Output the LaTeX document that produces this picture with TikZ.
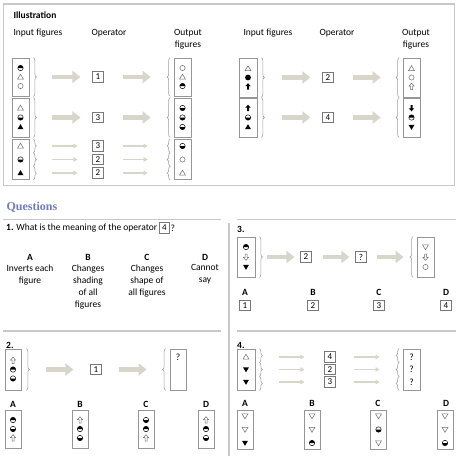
\documentclass[tikz,border=0pt]{standalone}
\usepackage{fontspec}
\setmainfont{Carlito}
\newfontfamily\headfont{Liberation Serif}
\usetikzlibrary{arrows.meta,positioning,calc,decorations.pathreplacing}

\definecolor{framegrey}{RGB}{200,200,200}
\definecolor{boxgrey}{RGB}{150,150,150}
\definecolor{opgrey}{RGB}{120,120,120}
\definecolor{figgrey}{RGB}{110,110,110}
\definecolor{bracegrey}{RGB}{160,160,160}
\definecolor{arrowbeige}{RGB}{216,214,202}
\definecolor{qblue}{RGB}{112,122,188}

\tikzset{
  frame/.style={draw=framegrey, line width=1.2pt},
  sepline/.style={draw=framegrey, line width=1.6pt},
  figbox/.style={draw=boxgrey, line width=0.7pt, minimum width=17pt, minimum height=39pt, inner sep=0pt},
  opbox/.style={draw=opgrey, line width=0.6pt, minimum width=10.5pt, minimum height=10.5pt, inner sep=0pt, font=\fontsize{9}{10}\selectfont},
  bigarrow/.style={draw=arrowbeige, line width=4.5pt, -{Triangle[length=8pt,width=12pt]}},
  thinarrow/.style={draw=arrowbeige, line width=1.3pt, -{Triangle[length=4pt,width=4.5pt]}},
  rbrace/.style={draw=bracegrey, line width=0.6pt, decorate, decoration={brace, amplitude=3pt}},
  lbrace/.style={draw=bracegrey, line width=0.6pt, decorate, decoration={brace, amplitude=3pt, mirror}},
  letter/.style={font=\fontsize{9.5}{12}\selectfont\bfseries},
  ans/.style={align=center, inner sep=0pt},
  figline/.style={draw=figgrey, line width=0.5pt},
  % little figures
  circ/.pic={\draw[figline] (0,0) circle[radius=2.6];},
  dot/.pic={\fill (0,0) circle[radius=2.9];},
  hcT/.pic={\fill (-2.7,0) arc[start angle=180,end angle=360,radius=2.7] -- cycle;
            \draw[line width=0.5pt] (0,0) circle[radius=2.7];},
  hcB/.pic={\fill (-2.7,0) arc[start angle=180,end angle=0,radius=2.7] -- cycle;
            \draw[line width=0.5pt] (0,0) circle[radius=2.7];},
  triU/.pic={\draw[figline] (-3,2.2) -- (3,2.2) -- (0,-2.8) -- cycle;},
  triUf/.pic={\fill (-3,2.2) -- (3,2.2) -- (0,-2.8) -- cycle;},
  triD/.pic={\draw[figline] (-3,-2.2) -- (3,-2.2) -- (0,2.8) -- cycle;},
  triDf/.pic={\fill (-3,-2.2) -- (3,-2.2) -- (0,2.8) -- cycle;},
  arrUf/.pic={\fill (0,-3.3) -- (2.6,-0.4) -- (1,-0.4) -- (1,3) -- (-1,3) -- (-1,-0.4) -- (-2.6,-0.4) -- cycle;},
  arrUo/.pic={\draw[figline] (0,-3.3) -- (2.6,-0.4) -- (1,-0.4) -- (1,3) -- (-1,3) -- (-1,-0.4) -- (-2.6,-0.4) -- cycle;},
  arrDf/.pic={\fill (0,3.3) -- (2.6,0.4) -- (1,0.4) -- (1,-3) -- (-1,-3) -- (-1,0.4) -- (-2.6,0.4) -- cycle;},
  arrDo/.pic={\draw[figline] (0,3.3) -- (2.6,0.4) -- (1,0.4) -- (1,-3) -- (-1,-3) -- (-1,0.4) -- (-2.6,0.4) -- cycle;},
}

% three figures in a column box: node, spacing, top, middle, bottom
\newcommand{\figcol}[5]{%
  \pic at ($(#1)+(0,-#2)$) {#3};
  \pic at (#1) {#4};
  \pic at ($(#1)+(0,#2)$) {#5};}

\begin{document}
\begin{tikzpicture}[x=1pt, y=-1pt, font=\fontsize{9.5}{12}\selectfont]
    \useasboundingbox (0,0) rectangle (460,458);

    % Illustration
    \draw[frame] (3.5,4) rectangle (454.5,185.5);
    \node[letter, anchor=west] (illus) at (10,15) {Illustration};
    \node (lin) at (38,33) {Input figures};
    \node (lop) at (109,33) {Operator};
    \node[align=center] (lout) at (188,39) {Output\\figures};
    \node (rin) at (268,33) {Input figures};
    \node (rop) at (337,33) {Operator};
    \node[align=center] (rout) at (416,39) {Output\\figures};

    % left: inputs
    \node[figbox, minimum height=38pt] (in1) at (20.5,77) {};
    \node[figbox] (in2) at (20.5,117.5) {};
    \node[figbox, minimum height=40pt] (in3) at (20.5,159.5) {};
    \figcol{in1}{9}{hcT}{triU}{circ}
    \figcol{in2}{9.5}{triU}{hcB}{triUf}
    \figcol{in3}{13.5}{triU}{hcB}{triUf}
    \draw[rbrace] ([xshift=4pt]in1.north east) -- ([xshift=4pt]in1.south east);
    \draw[rbrace] ([xshift=4pt]in2.north east) -- ([xshift=4pt]in2.south east);
    \coordinate (ia) at ($(in3.north east)+(4,0)$);
    \coordinate (id) at ($(in3.south east)+(4,0)$);
    \coordinate (ib) at ($(ia)!1/3!(id)$);
    \coordinate (ic) at ($(ia)!2/3!(id)$);
    \draw[rbrace] (ia) -- (ib);
    \draw[rbrace] (ib) -- (ic);
    \draw[rbrace] (ic) -- (id);

    % left: operators
    \node[opbox] (op1) at (98,77) {1};
    \node[opbox] (op2) at (98,117.5) {3};
    \node[opbox] (op3) at (98,146) {3};
    \node[opbox] (op4) at (98,159.5) {2};
    \node[opbox] (op5) at (98,173) {2};

    % left: outputs
    \node[figbox, minimum height=38pt] (out1) at (182.5,77) {};
    \node[figbox] (out2) at (182.5,117.5) {};
    \node[figbox, minimum height=40pt] (out3) at (182.5,159.5) {};
    \figcol{out1}{9}{circ}{triU}{hcT}
    \figcol{out2}{9.5}{hcB}{hcB}{hcB}
    \figcol{out3}{13.5}{hcB}{circ}{triU}
    \draw[lbrace] ([xshift=-3.5pt]out1.north west) -- ([xshift=-3.5pt]out1.south west);
    \draw[lbrace] ([xshift=-3.5pt]out2.north west) -- ([xshift=-3.5pt]out2.south west);
    \coordinate (oa) at ($(out3.north west)+(-3.5,0)$);
    \coordinate (od) at ($(out3.south west)+(-3.5,0)$);
    \coordinate (ob) at ($(oa)!1/3!(od)$);
    \coordinate (oc) at ($(oa)!2/3!(od)$);
    \draw[lbrace] (oa) -- (ob);
    \draw[lbrace] (ob) -- (oc);
    \draw[lbrace] (oc) -- (od);

    % left: arrows
    \draw[bigarrow, shorten <=23pt, shorten >=12pt] (in1) -- (op1);
    \draw[bigarrow, shorten <=23pt, shorten >=12pt] (in2) -- (op2);
    \draw[bigarrow, shorten <=19pt, shorten >=23pt] (op1) -- (out1);
    \draw[bigarrow, shorten <=19pt, shorten >=23pt] (op2) -- (out2);
    \foreach \o in {op3,op4,op5} {
        \draw[thinarrow, shorten <=23pt, shorten >=15pt] (in3.east |- \o) -- (\o);
        \draw[thinarrow, shorten <=19pt, shorten >=26pt] (\o) -- (out3.west |- \o);
    }

    % right: inputs
    \node[figbox, minimum width=18pt] (rin1) at (248,77.5) {};
    \node[figbox, minimum width=18pt] (rin2) at (248,117.5) {};
    \figcol{rin1}{9}{triU}{dot}{arrUf}
    \figcol{rin2}{9.5}{arrUf}{hcB}{triUf}
    \draw[rbrace] ([xshift=4pt]rin1.north east) -- ([xshift=4pt]rin1.south east);
    \draw[rbrace] ([xshift=4pt]rin2.north east) -- ([xshift=4pt]rin2.south east);

    % right: operators and outputs
    \node[opbox] (rop1) at (328,77.5) {2};
    \node[opbox] (rop2) at (328,117.5) {4};
    \node[figbox] (rout1) at (411.5,77.5) {};
    \node[figbox] (rout2) at (411.5,117.5) {};
    \figcol{rout1}{9}{triU}{circ}{arrUo}
    \figcol{rout2}{9.5}{arrDf}{hcT}{triDf}
    \draw[lbrace] ([xshift=-3.5pt]rout1.north west) -- ([xshift=-3.5pt]rout1.south west);
    \draw[lbrace] ([xshift=-3.5pt]rout2.north west) -- ([xshift=-3.5pt]rout2.south west);
    \draw[bigarrow, shorten <=25pt, shorten >=12pt] (rin1) -- (rop1);
    \draw[bigarrow, shorten <=25pt, shorten >=12pt] (rin2) -- (rop2);
    \draw[bigarrow, shorten <=19pt, shorten >=22pt] (rop1) -- (rout1);
    \draw[bigarrow, shorten <=19pt, shorten >=22pt] (rop2) -- (rout2);

    % Questions
    \node[anchor=west, font=\headfont\bfseries\fontsize{12}{14}\selectfont, text=qblue] (qhead) at (3,207) {Questions};
    \draw[sepline] (3,219.5) -- (221,219.5);
    \draw[sepline] (237,219.5) -- (456,219.5);
    \draw[sepline] (229,223) -- (229,456);
    \draw[sepline] (3,331) -- (221,331);
    \draw[sepline] (237,331) -- (456,331);

    % Question 1
    \node[anchor=west, inner sep=0pt] (q1) at (6,228) {\textbf{1.} What is the meaning of the operator};
    \node[opbox, right=1.5pt of q1] (q1op) {4};
    \node[right=0.5pt of q1op, inner sep=0pt] (q1q) {?};
    \node[letter] (q1A) at (30,257) {A};
    \node[letter] (q1B) at (88,257) {B};
    \node[letter] (q1C) at (147,257) {C};
    \node[letter] (q1D) at (205,257) {D};
    \node[ans, below=1pt of q1A] {Inverts each\\figure};
    \node[ans, below=1pt of q1B] {Changes\\shading\\of all\\figures};
    \node[ans, below=1pt of q1C] {Changes\\shape of\\all figures};
    \node[ans, below=1pt of q1D] {Cannot\\say};

    % Question 3
    \node[letter, anchor=west, inner sep=0pt] (q3) at (237,229) {3.};
    \node[figbox, minimum width=18pt, minimum height=40pt] (q3in) at (246,257) {};
    \figcol{q3in}{10}{hcT}{arrDo}{triDf}
    \draw[rbrace] ([xshift=4pt]q3in.north east) -- ([xshift=4pt]q3in.south east);
    \node[opbox] (q3op1) at (306,257) {2};
    \node[opbox] (q3op2) at (361,257) {?};
    \node[figbox, minimum height=40pt] (q3out) at (425.5,257) {};
    \figcol{q3out}{10}{triD}{arrDo}{circ}
    \draw[lbrace] ([xshift=-3.5pt]q3out.north west) -- ([xshift=-3.5pt]q3out.south west);
    \draw[bigarrow, shorten <=12pt, shorten >=6pt] (q3in) -- (q3op1);
    \draw[bigarrow, shorten <=11pt, shorten >=6pt] (q3op1) -- (q3op2);
    \draw[bigarrow, shorten <=10pt, shorten >=13pt] (q3op2) -- (q3out);
    \node[letter] (q3A) at (245,292) {A};
    \node[letter] (q3B) at (313,292) {B};
    \node[letter] (q3C) at (379,292) {C};
    \node[letter] (q3D) at (446,292) {D};
    \node[opbox, below=1pt of q3A] {1};
    \node[opbox, below=1pt of q3B] {2};
    \node[opbox, below=1pt of q3C] {3};
    \node[opbox, below=1pt of q3D] {4};

    % Question 2
    \node[letter, anchor=west, inner sep=0pt] (q2) at (6,345) {2.};
    \node[figbox, minimum width=16pt, minimum height=41pt] (q2in) at (13,369.5) {};
    \figcol{q2in}{9}{arrUo}{hcT}{hcB}
    \draw[rbrace] ([xshift=5pt]q2in.north east) -- ([xshift=5pt]q2in.south east);
    \node[opbox] (q2op) at (96,369.5) {1};
    \node[figbox, minimum width=16pt, minimum height=41pt] (q2out) at (178,369.5) {};
    \node (q2qm) at ($(q2out)+(0,-12)$) {?};
    \draw[lbrace] ([xshift=-4pt]q2out.north west) -- ([xshift=-4pt]q2out.south west);
    \draw[bigarrow, shorten <=25pt, shorten >=17pt] (q2in) -- (q2op);
    \draw[bigarrow, shorten <=17pt, shorten >=23pt] (q2op) -- (q2out);
    \node[letter] (q2A) at (13,404) {A};
    \node[letter] (q2B) at (80,404) {B};
    \node[letter] (q2C) at (146,404) {C};
    \node[letter] (q2D) at (206,404) {D};
    \node[figbox, minimum width=16pt, minimum height=38pt] (q2a) at (13,429) {};
    \node[figbox, minimum width=16pt, minimum height=38pt] (q2b) at (80,429) {};
    \node[figbox, minimum width=16pt, minimum height=38pt] (q2c) at (146,429) {};
    \node[figbox, minimum width=16pt, minimum height=38pt] (q2d) at (206,429) {};
    \figcol{q2a}{9}{hcT}{hcB}{arrUo}
    \figcol{q2b}{9}{arrUo}{hcT}{hcB}
    \figcol{q2c}{9}{hcB}{hcT}{arrUo}
    \figcol{q2d}{9}{arrUo}{hcT}{hcB}

    % Question 4
    \node[letter, anchor=west, inner sep=0pt] (q4) at (237,345) {4.};
    \node[figbox, minimum width=18pt, minimum height=41pt] (q4in) at (246,369.5) {};
    \figcol{q4in}{12.5}{triU}{triDf}{triDf}
    \coordinate (ja) at ($(q4in.north east)+(4,0)$);
    \coordinate (jd) at ($(q4in.south east)+(4,0)$);
    \coordinate (jb) at ($(ja)!1/3!(jd)$);
    \coordinate (jc) at ($(ja)!2/3!(jd)$);
    \draw[rbrace] (ja) -- (jb);
    \draw[rbrace] (jb) -- (jc);
    \draw[rbrace] (jc) -- (jd);
    \node[opbox] (q4op1) at (330,357) {4};
    \node[opbox] (q4op2) at (330,369.5) {2};
    \node[opbox] (q4op3) at (330,382) {3};
    \node[figbox, minimum height=41pt] (q4out) at (411.5,369.5) {};
    \node (q4q1) at ($(q4out)+(0,-12.5)$) {?};
    \node (q4q2) at (q4out) {?};
    \node (q4q3) at ($(q4out)+(0,12.5)$) {?};
    \coordinate (ka) at ($(q4out.north west)+(-3.5,0)$);
    \coordinate (kd) at ($(q4out.south west)+(-3.5,0)$);
    \coordinate (kb) at ($(ka)!1/3!(kd)$);
    \coordinate (kc) at ($(ka)!2/3!(kd)$);
    \draw[lbrace] (ka) -- (kb);
    \draw[lbrace] (kb) -- (kc);
    \draw[lbrace] (kc) -- (kd);
    \foreach \o in {q4op1,q4op2,q4op3} {
        \draw[thinarrow, shorten <=24pt, shorten >=20pt] (q4in.east |- \o) -- (\o);
        \draw[thinarrow, shorten <=18pt, shorten >=23pt] (\o) -- (q4out.west |- \o);
    }
    \node[letter] (q4A) at (245,403) {A};
    \node[letter] (q4B) at (312,403) {B};
    \node[letter] (q4C) at (378,403) {C};
    \node[letter] (q4D) at (446,403) {D};
    \node[figbox, minimum width=16pt] (q4a) at (245,429.5) {};
    \node[figbox, minimum width=16pt] (q4b) at (312,429.5) {};
    \node[figbox, minimum width=16pt] (q4c) at (378.5,429.5) {};
    \node[figbox, minimum width=16pt] (q4d) at (445,429.5) {};
    \figcol{q4a}{13.5}{triD}{triD}{triDf}
    \figcol{q4b}{13.5}{triD}{triD}{hcT}
    \figcol{q4c}{13.5}{triD}{hcB}{triD}
    \figcol{q4d}{13.5}{triD}{triD}{hcB}
\end{tikzpicture}
\end{document}
